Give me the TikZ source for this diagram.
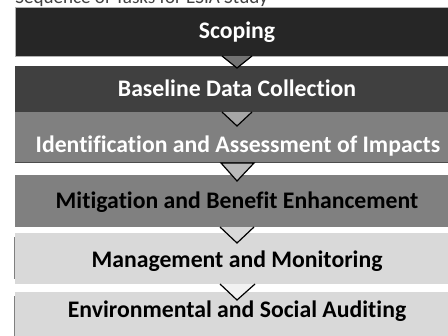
\documentclass[tikz,border=0pt]{standalone}
\usepackage{fontspec}
\setmainfont[Ligatures=NoCommon]{Carlito}
\begin{document}
\begin{tikzpicture}[x=0.75pt,y=-0.75pt,
  box/.style={draw=none,minimum width=444*0.75pt,inner sep=0pt,anchor=north},
  lbl/.style={font=\bfseries\fontsize{17.8}{20}\selectfont,anchor=base,inner sep=0pt},
  tri/.style={draw=black,line width=0.9pt}]
\useasboundingbox (0,0) rectangle (448,335);
\clip (0,0) rectangle (448,335);
\fill[white] (0,0) rectangle (448,335);
\node[font=\fontsize{14.3}{16}\selectfont,text=black!75,anchor=base west,inner sep=0pt] (title) at (15,4) {Sequence of Tasks for ESIA Study};
% boxes
\node[box,fill=black!85,draw=black!30,line width=0.6pt,minimum height=49*0.75pt] (b1) at (237,7) {};
\node[box,fill=black!75,minimum height=46*0.75pt] (b2) at (237,66) {};
\node[box,fill=black!50,minimum height=50*0.75pt] (b3) at (237,112) {};
\draw[black!70,line width=0.6pt] (b3.south west) -- (b3.south east);
\node[box,fill=black!50,minimum height=52*0.75pt] (b4) at (237,175) {};
\node[box,fill=black!15,minimum height=51*0.75pt] (b5) at (237,233) {};
\node[box,fill=black!15,minimum height=50*0.75pt] (b6) at (237,292) {};
\draw[black!50,line width=1pt] ([yshift=-4*0.75pt]b5.north west) -- ([yshift=-46*0.75pt]b5.north west);
\draw[black!50,line width=1pt] ([yshift=-4*0.75pt]b6.north west) -- (b6.south west);
% arrows
\coordinate (a1) at (237,68);
\coordinate (a2) at (237,126);
\coordinate (a3) at (237,181);
\coordinate (a4) at (237,243);
\coordinate (a5) at (237,300);
\fill[black!55] (222,56) -- (a1) -- (252,56) -- cycle;
\draw[tri] (222,56) -- (a1) -- (252,56);
\fill[black!35] (222,112) -- (a2) -- (252,112) -- cycle;
\draw[tri] (222,112) -- (a2) -- (252,112);
\fill[black!27] (221,163) -- (a3) -- (254,163) -- cycle;
\draw[tri] (221,163) -- (a3) -- (254,163) -- cycle;
\fill[black!15] (220,227) -- (a4) -- (254,227) -- cycle;
\draw[tri] (220,227) -- (a4) -- (254,227);
\fill[black!5] (220,284) -- (a5) -- (255,284) -- cycle;
\draw[tri] (220,284) -- (a5) -- (255,284);
% labels
\node[lbl,text=white] (l1) at (237,39) {Scoping};
\node[lbl,text=white] (l2) at (237,96) {Baseline Data Collection};
\node[lbl,text=white] (l3) at (238,152) {Identification and Assessment of Impacts};
\node[lbl,text=black] (l4) at (237,208) {Mitigation and Benefit Enhancement};
\node[lbl,text=black] (l5) at (237,267) {Management and Monitoring};
\node[lbl,text=black] (l6) at (237,317) {Environmental and Social Auditing};
\end{tikzpicture}
\end{document}
